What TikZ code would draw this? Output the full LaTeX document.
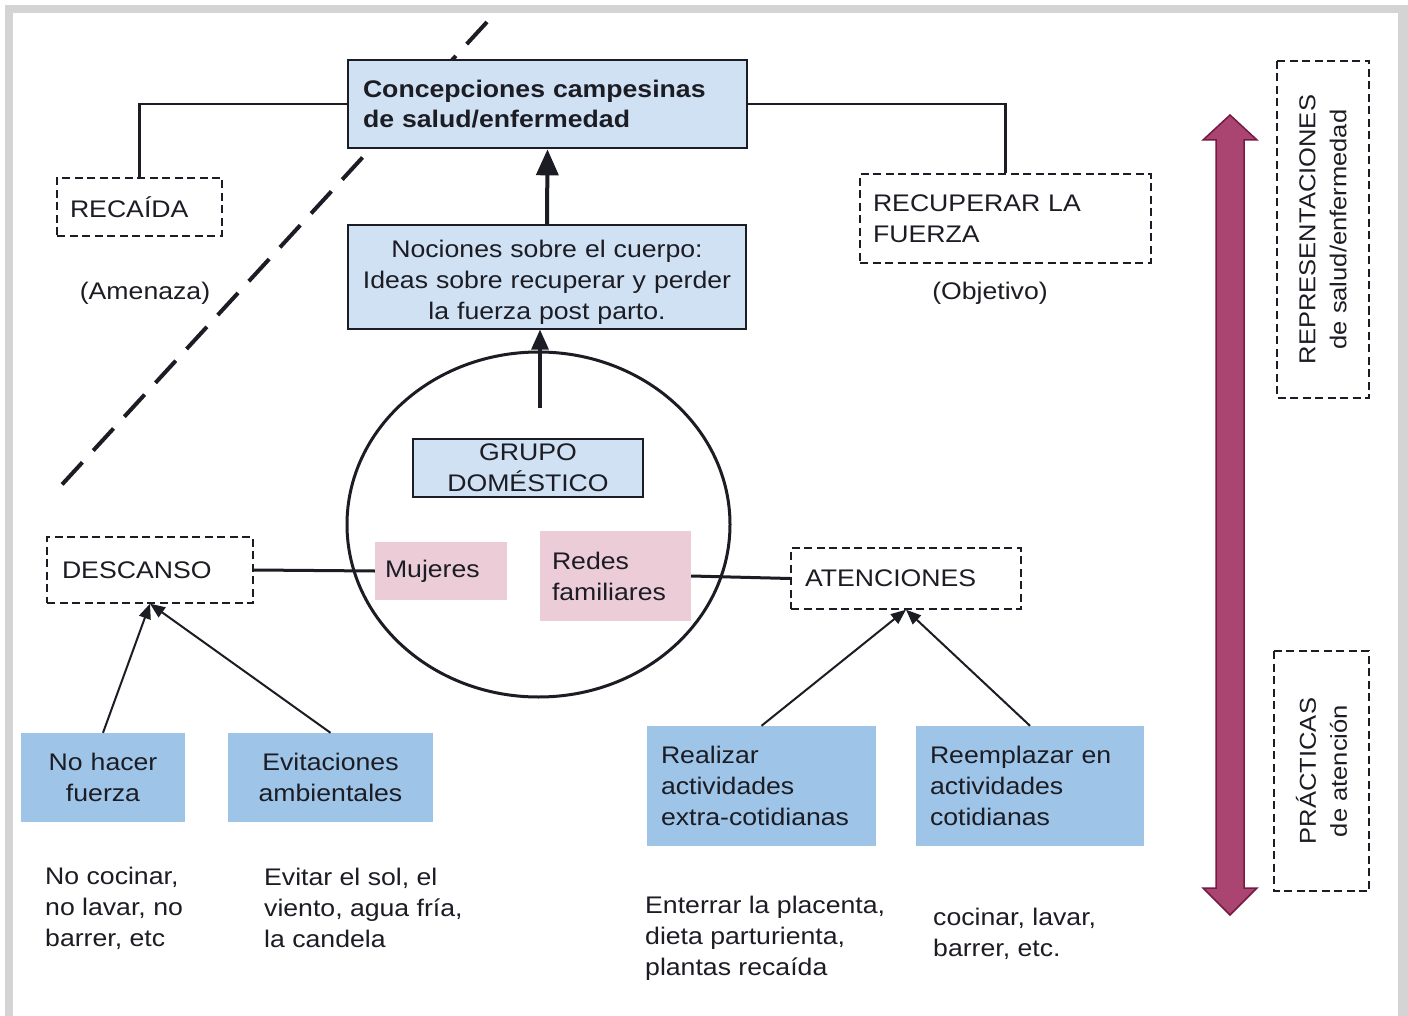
\documentclass[tikz,border=0pt]{standalone}
\usepackage{fontspec}
\setmainfont[FakeStretch=1.11]{Liberation Sans}
\usetikzlibrary{shapes.geometric,arrows.meta}

\definecolor{paleblue}{RGB}{207,225,243}
\definecolor{midblue}{RGB}{158,197,232}
\definecolor{rosebox}{RGB}{236,205,215}
\definecolor{plum}{RGB}{170,68,113}
\definecolor{plumdark}{RGB}{118,26,68}
\definecolor{framegray}{RGB}{212,212,212}
\definecolor{ink}{RGB}{28,28,36}

\begin{document}
\begin{tikzpicture}[x=1pt,y=-1pt,
  every node/.style={font=\fontsize{24}{31}\selectfont, text=ink, inner sep=0pt},
  dashbox/.style={draw=ink, line width=1.4pt, dash pattern=on 8pt off 4.5pt},
  lightbox/.style={fill=paleblue, draw=ink},
  solidbox/.style={fill=midblue},
  pinkbox/.style={fill=rosebox},
  link/.style={draw=ink, line width=2.6pt},
  bigarrow/.style={draw=ink, line width=4pt, -{Triangle[width=22pt,length=26pt]}},
  midarrow/.style={draw=ink, line width=3.2pt, -{Triangle[width=17pt,length=20pt]}},
  thinarrow/.style={draw=ink, line width=2pt, -{Triangle[width=12pt,length=15pt]}},
  note/.style={anchor=west, align=left}
]
% page and frame
\useasboundingbox (0,0) rectangle (1408,1016);
\fill[white] (0,0) rectangle (1408,1016);
\fill[framegray] (5,5) rectangle (1408,1016);
\fill[white] (13,13) rectangle (1398,1016);

% dividing dashed diagonal
\coordinate (d1) at (487,22);
\coordinate (d2) at (57,490);
\draw[ink, line width=4pt, dash pattern=on 30pt off 16pt] (d1) -- (d2);

% top level
\node[lightbox, line width=2.6pt, minimum width=399, minimum height=88,
      text width=369, align=left,
      font=\fontsize{24}{30}\selectfont\bfseries] (concep) at (547.5,104)
  {Concepciones campesinas\\de salud/enfermedad};

\node[dashbox, minimum width=165, minimum height=58, text width=139, align=left]
  (recaida) at (139.5,207) {RECAÍDA};
\node (amenaza) at (145,293) {(Amenaza)};

\node[dashbox, minimum width=291, minimum height=89, text width=265, align=left]
  (recup) at (1005.5,218.5) {RECUPERAR LA\\FUERZA};
\node (objetivo) at (990,293) {(Objetivo)};

\node[lightbox, line width=1.2pt, minimum width=398, minimum height=104,
      text width=396, align=center] (nociones) at (547,277)
  {\rule{0pt}{27pt}Nociones sobre el cuerpo:\\Ideas sobre recuperar y perder\\la fuerza post parto.};

% household circle
\node[ellipse, draw=ink, line width=3pt, minimum width=383, minimum height=345]
  (hogar) at (538.5,524.5) {};
\coordinate (hogartop) at (540,408);

\node[lightbox, line width=1.2pt, minimum width=230, minimum height=58,
      text width=230, align=center] (grupo) at (528,468) {GRUPO\\DOMÉSTICO};
\node[pinkbox, minimum width=132, minimum height=58, text width=112, align=left]
  (mujeres) at (441,571) {Mujeres};
\node[pinkbox, minimum width=151, minimum height=90, text width=127, align=left]
  (redes) at (615.5,576) {Redes\\familiares};

% practices
\node[dashbox, minimum width=206, minimum height=66, text width=176, align=left]
  (descanso) at (150,570) {DESCANSO};
\node[dashbox, minimum width=230, minimum height=61, text width=202, align=left]
  (atenciones) at (906,578.5) {ATENCIONES};

\node[solidbox, minimum width=164, minimum height=89, text width=164, align=center]
  (nohacer) at (103,777.5) {No hacer\\fuerza};
\node[solidbox, minimum width=205, minimum height=89, text width=205, align=center]
  (evita) at (330.5,777.5) {Evitaciones\\ambientales};
\node[solidbox, minimum width=229, minimum height=120, text width=201, align=left]
  (realizar) at (761.5,786) {Realizar\\actividades\\extra-cotidianas};
\node[solidbox, minimum width=228, minimum height=120, text width=200, align=left]
  (reemplazar) at (1030,786) {Reemplazar en\\actividades\\cotidianas};

\node[note] (ej1) at (45,908) {No cocinar,\\no lavar, no\\barrer, etc};
\node[note] (ej2) at (264,908) {Evitar el sol, el\\viento, agua fría,\\la candela};
\node[note] (ej3) at (645,938) {Enterrar la placenta,\\dieta parturienta,\\plantas recaída};
\node[note] (ej4) at (933,933.5) {cocinar, lavar,\\barrer, etc.};

% connectors
\draw[link] (concep.west) -| (recaida.north);
\draw[link] (concep.east) -| (recup.north);
\draw[bigarrow] (nociones.north) -- (concep.south);
\draw[midarrow] (hogartop) -- (hogartop |- nociones.south);
\draw[link, line width=3pt] (descanso.east) -- (mujeres.west);
\draw[link, line width=3pt] (redes.east) -- (atenciones.west);
\draw[thinarrow] (nohacer.north) -- (descanso.south);
\draw[thinarrow] (evita.north) -- (descanso.south);
\draw[thinarrow] (realizar.north) -- (atenciones.south);
\draw[thinarrow] (reemplazar.north) -- (atenciones.south);

% two-way scale between representations and practices
\filldraw[fill=plum, draw=plumdark, line width=1.5pt]
  (1230,115) -- (1257,140) -- (1244,140) -- (1244,888) -- (1257,888)
  -- (1230,915) -- (1203,888) -- (1216,888) -- (1216,140) -- (1203,140) -- cycle;

\node[dashbox, rotate=90, minimum width=337, minimum height=92, align=center,
      font=\fontsize{23}{31}\selectfont]
  (repres) at (1323,229.5) {REPRESENTACIONES\\de salud/enfermedad};
\node[dashbox, rotate=90, minimum width=240, minimum height=95, align=center,
      font=\fontsize{23}{31}\selectfont]
  (practicas) at (1321.5,771) {PRÁCTICAS\\de atención};
\end{tikzpicture}
\end{document}
